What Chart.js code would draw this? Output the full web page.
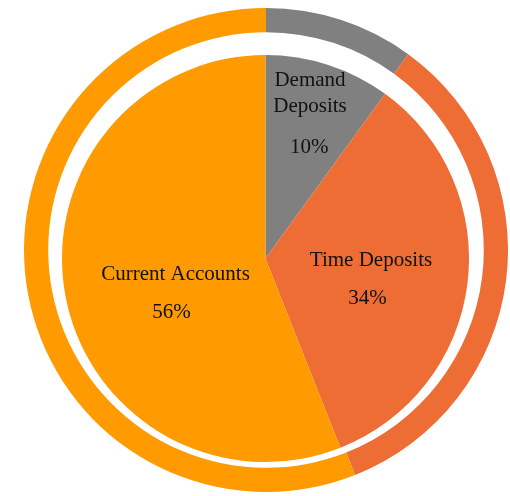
<!DOCTYPE html>
<html>
<head>
<meta charset="utf-8">
<script src="https://cdn.jsdelivr.net/npm/chart.js@4"></script>
<style>
  html, body { margin: 0; padding: 0; background: #fff; }
  body { width: 510px; height: 496px; position: relative; overflow: hidden; }
  canvas { position: absolute; }
  #ring { left: 24px; top: 8px; }
  #pie { left: 62px; top: 55px; }
</style>
</head>
<body>
<canvas id="ring" width="484" height="484"></canvas>
<canvas id="pie" width="407" height="407"></canvas>
<script>
const categories = ['Demand Deposits', 'Time Deposits', 'Current Accounts'];
const shares = [10, 34, 56];
const colors = ['#808080', '#ED6D35', '#FF9A00'];

// where each label sits, relative to the pie centre (baselines of each line)
const labelSpots = [
    { lines: [[44.5, -172.5], [44.5, -146.5]], pct: [43.8, -106] },
    { lines: [[105.5, 7.5]], pct: [102, 45.5] },
    { lines: [[-90, 21.5]], pct: [-94, 59.5] }
];
const labelLines = [['Demand', 'Deposits'], ['Time Deposits'], ['Current Accounts']];

const sliceLabels = {
    id: 'sliceLabels',
    afterDatasetsDraw(chart) {
        const ctx = chart.ctx;
        const arc = chart.getDatasetMeta(0).data[0];
        const cx = arc.x, cy = arc.y;
        ctx.save();
        ctx.font = '21px "Liberation Serif", "Times New Roman", serif';
        ctx.fillStyle = '#111';
        ctx.textAlign = 'center';
        ctx.textBaseline = 'alphabetic';
        labelSpots.forEach((spot, i) => {
            labelLines[i].forEach((txt, j) => {
                ctx.fillText(txt, cx + spot.lines[j][0], cy + spot.lines[j][1]);
            });
            ctx.fillText(shares[i] + '%', cx + spot.pct[0], cy + spot.pct[1]);
        });
        ctx.restore();
    }
};

const common = {
    responsive: false,
    animation: false,
    layout: { padding: 0 },
    plugins: { legend: { display: false }, tooltip: { enabled: false } }
};

new Chart(document.getElementById('ring'), {
    type: 'doughnut',
    data: {
        labels: categories,
        datasets: [{ data: shares, backgroundColor: colors, borderWidth: 0 }]
    },
    options: Object.assign({}, common, { cutout: '90%' })
});

new Chart(document.getElementById('pie'), {
    type: 'pie',
    data: {
        labels: categories,
        datasets: [{ data: shares, backgroundColor: colors, borderWidth: 0 }]
    },
    options: common,
    plugins: [sliceLabels]
});
</script>
</body>
</html>
